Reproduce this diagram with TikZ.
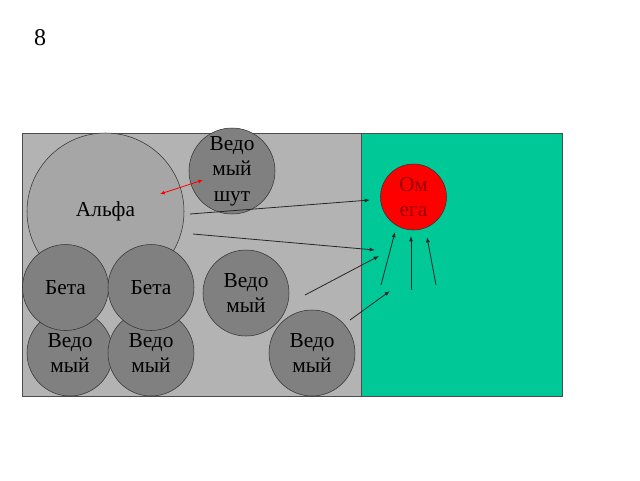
\documentclass[tikz,border=0pt]{standalone}
\usepackage{fontspec}
\setmainfont{Liberation Serif}
\usetikzlibrary{arrows.meta}
\definecolor{seryj}{HTML}{B3B3B3}
\definecolor{krugseryj}{HTML}{808080}
\definecolor{alfaseryj}{HTML}{A6A6A6}
\definecolor{zelenyj}{HTML}{00C896}
\definecolor{tekstkr}{HTML}{9A0000}
\tikzset{
  krug/.style={circle,draw=black!80,fill=krugseryj,inner sep=0pt,align=center,
    font=\fontsize{16}{19}\selectfont,minimum size=64.5pt},
  strelka/.style={-{Latex[length=4pt,width=3pt]},black!85,line width=0.6pt}
}
\begin{document}
\begin{tikzpicture}[x=0.75pt,y=-0.75pt]
      \useasboundingbox (0,0) rectangle (640,480);
      \node at (40,38) {\fontsize{18}{20}\selectfont 8};

      \draw[fill=seryj,draw=black!70] (22,133) rectangle (361,396);
      \draw[fill=zelenyj,draw=black!70] (361,133) rectangle (562,396);

      \node[krug,fill=alfaseryj,minimum size=117.75pt] (alfa) at (105.5,211.5) {Альфа};
      \node[krug] (shut) at (232,171) {Ведо\\мый\\шут};
      \node[krug] (ved1) at (70,353) {Ведо\\мый};
      \node[krug] (ved2) at (151,353) {Ведо\\мый};
      \node[krug] (beta1) at (65.5,287.5) {Бета};
      \node[krug] (beta2) at (151,287.5) {Бета};
      \node[krug] (ved3) at (246,293) {Ведо\\мый};
      \node[krug] (ved4) at (312,353) {Ведо\\мый};
      \node[krug,fill=red,minimum size=49.5pt,text=tekstkr] (omega) at (413.5,197) {Ом\\ега};

      \coordinate (r1) at (160,194);
      \coordinate (r2) at (203,180);
      \draw[{Latex[length=3.5pt,width=3pt]}-{Latex[length=3.5pt,width=3pt]},red,line width=0.6pt] (r1) -- (r2);

      \coordinate (a1) at (190,214);  \coordinate (b1) at (370,200);
      \coordinate (a2) at (193,234);  \coordinate (b2) at (375,250);
      \coordinate (a3) at (305,295);  \coordinate (b3) at (379,256);
      \coordinate (a4) at (350,320);  \coordinate (b4) at (390,291);
      \coordinate (a5) at (381,285);  \coordinate (b5) at (395,232);
      \coordinate (a6) at (411,290);  \coordinate (b6) at (411,236);
      \coordinate (a7) at (436,285);  \coordinate (b7) at (427,237);
      \foreach \i in {1,...,7}
        \draw[strelka] (a\i) -- (b\i);
\end{tikzpicture}
\end{document}
